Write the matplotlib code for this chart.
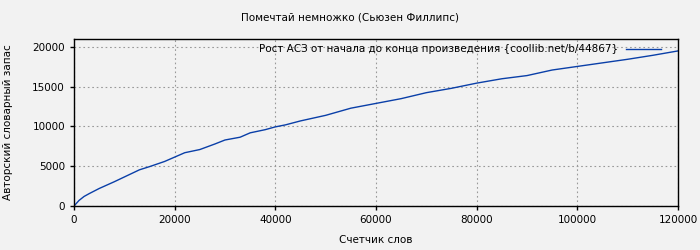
import matplotlib
matplotlib.use("Agg")
import matplotlib.pyplot as plt

# word counter vs. author's vocabulary
words = [0, 1000, 2000, 3000, 5000, 8000, 10000, 13000, 15000, 18000, 20000,
         22000, 25000, 28000, 30000, 33000, 35000, 38000, 40000, 42000, 45000,
         50000, 55000, 60000, 65000, 70000, 75000, 80000, 85000, 90000, 95000,
         100000, 105000, 110000, 115000, 120000]
vocab = [0, 700, 1200, 1550, 2200, 3050, 3650, 4550, 4950, 5600, 6150,
         6700, 7100, 7800, 8300, 8650, 9200, 9600, 9950, 10200, 10700,
         11400, 12300, 12900, 13500, 14250, 14800, 15450, 16000, 16400, 17100,
         17550, 18000, 18450, 18950, 19500]

title = "Помечтай немножко (Сьюзен Филлипс)"
series_label = "Рост АСЗ от начала до конца произведения {coollib.net/b/44867}"
xticks = [0, 20000, 40000, 60000, 80000, 100000, 120000]
yticks = [0, 5000, 10000, 15000, 20000]

bg = "#f2f2f2"
fs = 7.5
fig = plt.figure(figsize=(7, 2.5), dpi=100, facecolor=bg)
ax = fig.add_axes([74 / 700, 44 / 250, 604 / 700, 167 / 250], facecolor=bg)

ax.plot(words, vocab, color="#0a3fa8", lw=1, label=series_label)
ax.set_xlim(0, 120000)
ax.set_ylim(0, 21000)
ax.set_xticks(xticks)
ax.set_yticks(yticks)
ax.tick_params(labelsize=fs, direction="out", length=3, width=1)
ax.grid(True, color="#999999", linestyle=(0, (1.5, 2.5)), lw=0.8)
ax.set_axisbelow(True)
for s in ax.spines.values():
    s.set_linewidth(1)

ax.set_xlabel("Счетчик слов", fontsize=fs, va="center")
ax.set_ylabel("Авторский словарный запас", fontsize=fs, va="center")
ax.xaxis.set_label_coords(0.5, -34 / 167)
ax.yaxis.set_label_coords(-66 / 604, 0.5)
fig.text(0.5, 1 - 18 / 250, title, ha="center", va="center", fontsize=fs)

leg = ax.legend(loc="upper right", bbox_to_anchor=(1 - 12 / 604, 1), frameon=False,
                fontsize=fs, markerfirst=False, handlelength=3.3,
                borderaxespad=0.1, handletextpad=0.8)

fig.savefig("out.png", dpi=100, facecolor=bg)
